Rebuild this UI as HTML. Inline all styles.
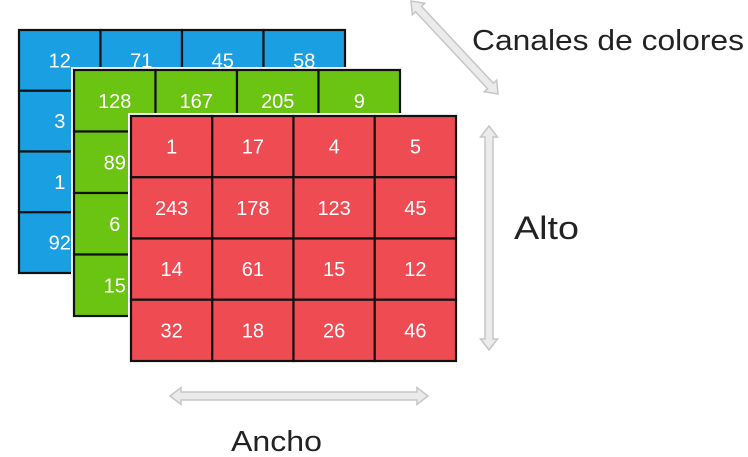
<!DOCTYPE html>
<html><head><meta charset="utf-8"><style>
html,body{margin:0;padding:0;background:#fff;}
svg{display:block;font-family:"Liberation Sans","DejaVu Sans",sans-serif;}
</style></head><body>
<svg id="s" width="748" height="457" viewBox="0 0 748 457" xmlns="http://www.w3.org/2000/svg">
<text x="472" y="50" font-size="29" textLength="272" lengthAdjust="spacingAndGlyphs" fill="#222">Canales de colores</text>
<text x="514" y="239" font-size="32" textLength="65" lengthAdjust="spacingAndGlyphs" fill="#222">Alto</text>
<text x="231" y="451" font-size="29" textLength="91" lengthAdjust="spacingAndGlyphs" fill="#222">Ancho</text>
</svg>
<script>
const blueValues=[["12","71","45","58"],["3","","",""],["1","","",""],["92","","",""]];
const greenValues=[["128","167","205","9"],["89","","",""],["6","","",""],["15","","",""]];
const redValues=[["1","17","4","5"],["243","178","123","45"],["14","61","15","12"],["32","18","26","46"]];
const NS="http://www.w3.org/2000/svg";
const svg=document.getElementById('s');
function mk(t,a,p){const e=document.createElementNS(NS,t);for(const k in a)e.setAttribute(k,a[k]);(p||svg).appendChild(e);return e;}
function grid(name,vals,x0,y0,w,h,fill){
  const g=mk('g',{});
  
  
  mk('rect',{x:x0-1.5,y:y0-1.5,width:w+3,height:h+3,fill:'none',stroke:'#fff','stroke-width':3},g);
  const cw=w/4,ch=h/4;
  for(let r=0;r<4;r++)for(let c=0;c<4;c++){
    const cell=mk('rect',{x:x0+c*cw,y:y0+r*ch,width:cw,height:ch,fill:fill,stroke:'#111','stroke-width':2.2},g);
    
    
    if(vals[r][c]){
      const t=mk('text',{x:x0+c*cw+cw/2,y:y0+r*ch+ch/2+7,'text-anchor':'middle','font-size':20,fill:'#fff'},g);
      t.textContent=vals[r][c];
      
      
    }
  }
}
grid('blue-channel',blueValues,19,30,326,243,'#1a9fe2');
grid('green-channel',greenValues,74,70,326,246,'#6cc412');
grid('red-channel',redValues,131,116,325,245,'#ef4b53');
function arrow(name,x1,y1,x2,y2){
  const L=Math.hypot(x2-x1,y2-y1),a=Math.atan2(y2-y1,x2-x1)*180/Math.PI;
  const h=11,w=8.5,s=4,l=L/2;
  const pts=[[-l,0],[-l+h,-w],[-l+h,-s],[l-h,-s],[l-h,-w],[l,0],[l-h,w],[l-h,s],[-l+h,s],[-l+h,w]].map(p=>p.join(',')).join(' ');
  const p=mk('polygon',{points:pts,fill:'#ebebeb',stroke:'#c6c6c6','stroke-width':1.5,transform:`translate(${(x1+x2)/2},${(y1+y2)/2}) rotate(${a})`});
  
  
}
arrow('channels-arrow',411,1,498,94);
arrow('height-arrow',489,126,489,350);
arrow('width-arrow',170,396,428,396);
</script>
</body></html>
